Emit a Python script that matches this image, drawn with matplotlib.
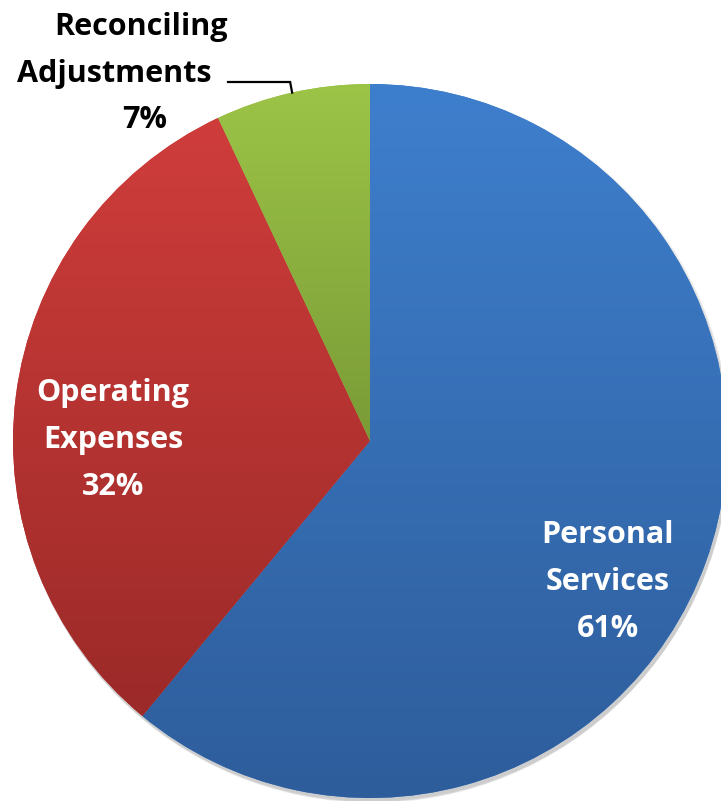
import numpy as np
import matplotlib
matplotlib.use("Agg")
import matplotlib.pyplot as plt
from matplotlib.colors import LinearSegmentedColormap
from matplotlib.patches import Circle

# Budget shares (percent)
categories = ["Personal Services", "Operating Expenses", "Reconciling Adjustments"]
shares = [61, 32, 7]

# Vertical gradient per slice: (top colour, bottom colour)
slice_colors = [("#3E7FCD", "#2E5D9B"),
                ("#CF3D3B", "#9B2A28"),
                ("#9CC447", "#7A9B37")]

W, H = 721, 801
fig = plt.figure(figsize=(W / 100, H / 100), dpi=100)
ax = fig.add_axes([0, 0, 1, 1])

cx, cy, R = 370, 801 - 441, 357

# soft drop shadow under the pie
for i, a in enumerate([0.05, 0.05, 0.05, 0.05]):
    ax.add_patch(Circle((cx + 2, cy - 2 - i), R + 1.5 - i * 0.5, color="#000000",
                        alpha=a, lw=0, zorder=0))

wedges, _ = ax.pie(shares, startangle=90, counterclock=False, center=(cx, cy),
                   radius=R, colors=[c[0] for c in slice_colors],
                   wedgeprops=dict(linewidth=0))

for w, (top, bot) in zip(wedges, slice_colors):
    ext = w.get_path().get_extents()
    cmap = LinearSegmentedColormap.from_list("g", [bot, top])
    grad = np.linspace(0, 1, 256).reshape(-1, 1)
    im = ax.imshow(grad, cmap=cmap, origin="lower", aspect="auto",
                   extent=[ext.x0, ext.x1, ext.y0, ext.y1], zorder=2,
                   interpolation="bilinear")
    im.set_clip_path(w)

ax.set_xlim(0, W)
ax.set_ylim(0, H)
ax.set_aspect("equal")
ax.axis("off")

font = dict(family=["Open Sans", "DejaVu Sans"], fontweight="bold", fontsize=22)

def label(lines, color):
    for text, x, baseline in lines:
        ax.text(x, H - baseline, text, ha="center", va="baseline", color=color,
                zorder=5, **font)

label([("Personal", 608, 543), ("Services", 608, 590),
       (f"{shares[0]}%", 608, 637)], "white")
label([("Operating", 113, 401), ("Expenses", 113, 448),
       (f"{shares[1]}%", 113, 495)], "white")
label([("Reconciling", 141, 35), ("Adjustments", 114, 82),
       (f"{shares[2]}%", 145, 128)], "black")

# leader line from the outside label to the small slice
w = wedges[2]
mid = np.deg2rad((w.theta1 + w.theta2) / 2)
ex, ey = cx + R * np.cos(mid), cy + R * np.sin(mid)
ax.plot([228, ex - 2, ex], [H - 82, H - 82, ey], color="black", lw=1.6,
        zorder=5, solid_joinstyle="miter")

fig.savefig("out.png", dpi=100)
